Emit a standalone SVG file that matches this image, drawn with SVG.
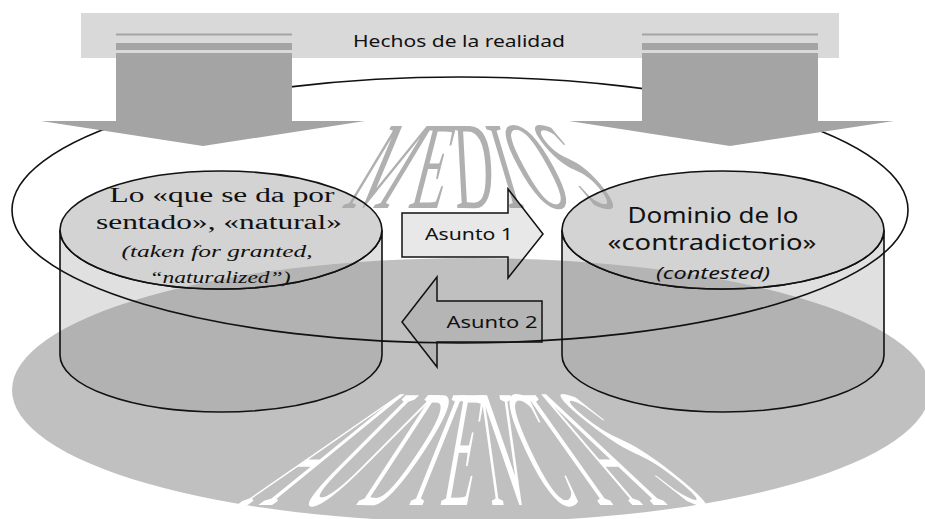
<svg xmlns="http://www.w3.org/2000/svg" width="925" height="519" viewBox="0 0 925 519">
<defs>
<style>
.ol{fill:none;stroke:#111;stroke-width:1.6}
.body{fill:#8c8c8c;fill-opacity:.27;stroke:#111;stroke-width:1.6}
.top{fill:#a8a8a8;fill-opacity:.5;stroke:#111;stroke-width:1.6}
.blk{fill:#a4a4a4}
.sans{font-family:"Noto Sans","DejaVu Sans",sans-serif;fill:#111}
.serif{font-family:"Liberation Serif","DejaVu Serif",serif;fill:#111}
.it{font-style:italic}
.wm{font-family:"Liberation Serif","DejaVu Serif",serif;font-size:100px;text-anchor:middle}
.mid{text-anchor:middle}
.conn{fill:#8c8c8c;fill-opacity:.2;stroke:#111;stroke-width:1.5}
</style>
</defs>
<rect width="925" height="519" fill="#fff"/>
<g id="audiencia-ground">
<ellipse cx="471" cy="390" rx="459" ry="132" fill="#c0c0c0"/>
<g fill="#fff" class="wm">
<text transform="matrix(0.5,0,-2.246,1.677,254.5,505)">A</text>
<text transform="matrix(0.5,0,-1.670,1.677,313.6,505)">U</text>
<text transform="matrix(0.5,0,-1.094,1.677,372.7,505)">D</text>
<text transform="matrix(0.5,0,-0.673,1.677,415.9,505)">I</text>
<text transform="matrix(0.5,0,-0.297,1.677,454.5,505)">E</text>
<text transform="matrix(0.5,0,0.234,1.677,509.0,505)">N</text>
<text transform="matrix(0.5,0,0.788,1.677,565.9,505)">C</text>
<text transform="matrix(0.5,0,1.187,1.677,606.8,505)">I</text>
<text transform="matrix(0.5,0,1.608,1.677,650.0,505)">A</text>
<text transform="matrix(0.5,0,2.117,1.677,702.3,505)">S</text>
</g>
</g>
<g id="medios" fill="#b0b0b0" class="wm">
<text transform="matrix(0.55,0,-0.754,1.254,364.8,208)">M</text>
<text transform="matrix(0.55,0,-0.320,1.254,423.5,208)">E</text>
<text transform="matrix(0.55,0,0.066,1.254,475.7,208)">D</text>
<text transform="matrix(0.55,0,0.372,1.254,516.9,208)">I</text>
<text transform="matrix(0.55,0,0.677,1.254,558.2,208)">O</text>
<text transform="matrix(0.55,0,1.048,1.254,608.3,208)">S</text>
</g>
<g id="cyl-left">
<path class="body" d="M60,230 L60,355 A161,57 0 0 0 382,355 L382,230 A161,59 0 0 1 60,230 Z"/>
<ellipse class="top" cx="221" cy="230" rx="161" ry="59"/>
<text class="serif mid" x="222" y="202" font-size="20" textLength="225" lengthAdjust="spacingAndGlyphs">Lo «que se da por</text>
<text class="serif mid" x="219" y="229" font-size="20" textLength="246" lengthAdjust="spacingAndGlyphs">sentado», «natural»</text>
<text class="serif it mid" x="217" y="257" font-size="16" textLength="191" lengthAdjust="spacingAndGlyphs">(taken for granted,</text>
<text class="serif it mid" x="220" y="283" font-size="16" textLength="141" lengthAdjust="spacingAndGlyphs">“naturalized”)</text>
</g>
<g id="cyl-right">
<path class="body" d="M562,230 L562,355 A161,57 0 0 0 884,355 L884,230 A161,59 0 0 1 562,230 Z"/>
<ellipse class="top" cx="723" cy="230" rx="161" ry="59"/>
<text class="sans mid" x="713" y="223" font-size="21" textLength="171" lengthAdjust="spacingAndGlyphs">Dominio de lo</text>
<text class="sans mid" x="712" y="250" font-size="21" textLength="209" lengthAdjust="spacingAndGlyphs">«contradictorio»</text>
<text class="sans it mid" x="713" y="279" font-size="16" textLength="114" lengthAdjust="spacingAndGlyphs">(contested)</text>
</g>
<g id="connectors">
<g id="asunto1">
<polygon class="conn" points="402,213 508,213 508,189 543,234 508,278 508,257 402,257"/>
<text class="sans mid" x="469" y="240" font-size="17" textLength="88" lengthAdjust="spacingAndGlyphs">Asunto 1</text>
</g>
<g id="asunto2">
<polygon class="conn" points="542,301 437,301 437,277 402,322 437,367 437,342 542,342"/>
<text class="sans mid" x="492" y="328" font-size="17" textLength="91" lengthAdjust="spacingAndGlyphs">Asunto 2</text>
</g>
</g>
<g id="ellipse-outline">
<ellipse class="ol" cx="460" cy="210" rx="448" ry="133"/>
</g>
<g id="hechos">
<rect x="81" y="13" width="758" height="45" fill="#d9d9d9"/>
<text class="sans mid" x="459" y="47" font-size="17" textLength="212" lengthAdjust="spacingAndGlyphs">Hechos de la realidad</text>
</g>
<g id="arrow-left-down" class="blk">
<rect x="116" y="33.5" width="176" height="2"/>
<rect x="116" y="43" width="176" height="7"/>
<polygon points="116,53 292,53 292,121 365,121 203,146 41,121 116,121"/>
</g>
<g id="arrow-right-down" class="blk">
<rect x="642" y="33.5" width="176" height="2"/>
<rect x="642" y="43" width="176" height="7"/>
<polygon points="642,53 818,53 818,121 894,121 730,146 569,121 642,121"/>
</g>
</svg>
